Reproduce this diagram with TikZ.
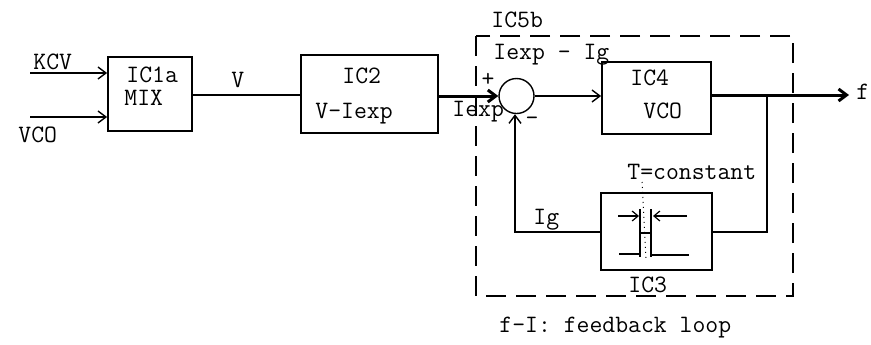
\documentclass[tikz,border=0pt]{standalone}
\usetikzlibrary{positioning,arrows.meta}

\begin{document}
\begin{tikzpicture}[x=0.5pt,y=-0.5pt,
    every node/.style={font=\ttfamily\fontsize{12.5}{14}\selectfont},
    txt/.style={anchor=base west,inner sep=0pt},
    block/.style={draw,line width=0.9pt,inner sep=0pt},
    sig/.style={line width=0.7pt,-{Straight Barb[length=4pt,width=6pt]}},
    bus/.style={line width=1.5pt},
    pulse/.style={line width=1.1pt}]
    \useasboundingbox (0,0) rectangle (871,344);
    % input mixer
    \node[txt] (kcv) at (33,69) {KCV};
    \node[txt] (vco) at (18,142) {VCO};
    \node[block,minimum width=42pt,minimum height=37pt] (mix) at (150,94) {};
    \node[txt] (mixa) at (126,82) {IC1a};
    \node[txt] (mixb) at (124,105) {MIX};
    \coordinate (kcvin) at (30,73);
    \coordinate (vcoin) at (30,117);
    \draw[sig] (kcvin) -- (mix.west |- kcvin);
    \draw[sig] (vcoin) -- (mix.west |- vcoin);
    % V to I converter
    \node[block,minimum width=68.5pt,minimum height=39pt] (vi) at (369.5,94) {};
    \node[txt] (via) at (342,83) {IC2};
    \node[txt] (vib) at (315,118) {V-Iexp};
    \draw[line width=0.7pt] (mix.east |- 0,95) -- (vi.west |- 0,95);
    \node[txt] (vlab) at (231,87) {V};
    % summing point
    \node[draw,circle,line width=0.7pt,minimum size=17.5pt,inner sep=0pt] (sum) at (516.5,96) {};
    \draw[sig,bus] (vi.east |- sum) -- (sum.west);
    \node[txt] (iexp) at (452,116) {Iexp};
    \node (plus) at (488,80) {+};
    \node (minus) at (532,121) {-};
    % VCO
    \node[block,minimum width=54.5pt,minimum height=36pt] (osc) at (656.5,98) {};
    \node[txt] (osca) at (630,85) {IC4};
    \node[txt] (oscb) at (643,118) {VCO};
    \draw[sig] (sum.east) -- (osc.west |- sum);
    \coordinate (fout) at (849,95);
    \coordinate (tap) at (767,95);
    \draw[bus,-{Straight Barb[length=4pt,width=6pt]}] (osc.east |- fout) -- (fout);
    \node[txt] (flab) at (856,99) {f};
    % monostable
    \node[block,minimum width=55.5pt,minimum height=38.5pt] (mono) at (656.5,231.5) {};
    \coordinate (back) at (515,232);
    \draw[line width=0.7pt] (tap) |- (mono.east |- 0,232);
    \draw[sig] (mono.west |- back) -- (back) -- (sum.south -| back);
    \node[txt] (iglab) at (533,224) {Ig};
    \node[txt] (tlab) at (627,179) {T=constant};
    \node[txt] (monolab) at (628,292) {IC3};
    % pulse of width T
    \draw[pulse] (619,254) -- (640,254);
    \draw[pulse] (652,255) -- (689,255);
    \draw[line width=0.8pt] (640,209) -- (640,257);
    \draw[line width=0.8pt] (651,209) -- (651,257);
    \draw[line width=0.8pt] (640,233) -- (651,233);
    \draw[line width=0.6pt,-{Straight Barb[length=3pt,width=5pt]}] (618,216) -- (639,216);
    \draw[line width=0.6pt,-{Straight Barb[length=3pt,width=5pt]}] (687,216) -- (653,216);
    \draw[line width=0.5pt,dotted] (642,182) -- (646,258);
    % feedback loop frame
    \draw[line width=0.6pt,dash pattern=on 10pt off 5pt] (476,36) rectangle (793,296);
    \node[txt] (frame) at (491,27) {IC5b};
    \node[txt] (diff) at (493,59) {Iexp - Ig};
    \node[txt] (cap) at (499,332) {f-I: feedback loop};
\end{tikzpicture}
\end{document}
